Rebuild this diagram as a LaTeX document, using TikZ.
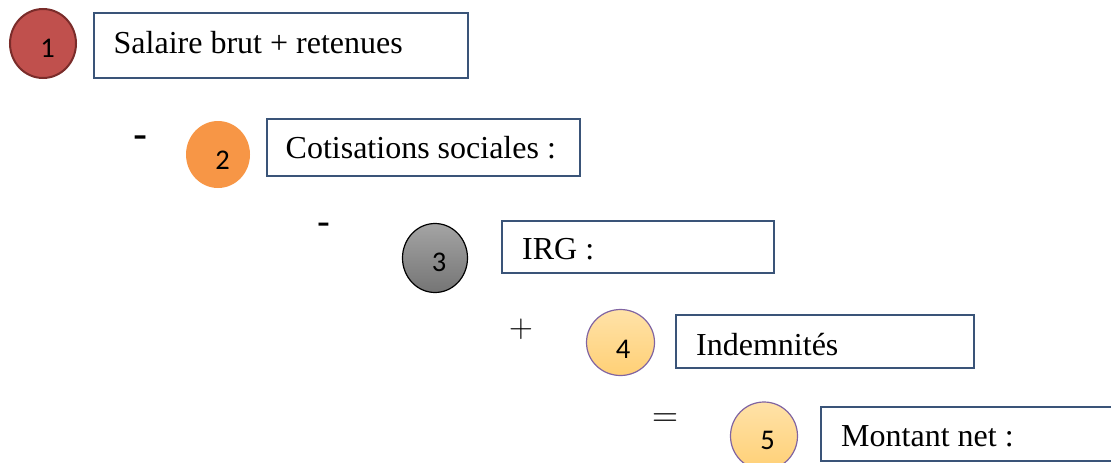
\documentclass[tikz,border=0pt]{standalone}
\usepackage{fontspec}
\setmainfont{Liberation Serif}
\newfontfamily\numfont{Carlito}
\newfontfamily\lmfont{Latin Modern Roman}
\usetikzlibrary{shapes.geometric}
\definecolor{boxline}{HTML}{3A5478}
\definecolor{redfill}{HTML}{C0504D}
\definecolor{redline}{HTML}{7A2C2A}
\definecolor{orangefill}{HTML}{F79646}
\definecolor{graytop}{HTML}{A4A4A4}
\definecolor{graybot}{HTML}{757575}
\definecolor{yeltop}{HTML}{FFE2A8}
\definecolor{yelbot}{HTML}{FFD076}
\definecolor{purpline}{HTML}{8064A2}
\tikzset{
  stepbox/.style={draw=boxline, line width=2.2pt, rectangle, inner sep=0pt, fill=white},
  lbl/.style={inner sep=0pt, anchor=base west, font=\fontsize{32}{36}\selectfont},
  num/.style={inner sep=0pt, anchor=base, font=\numfont\fontsize{28.5}{30}\selectfont},
  badge/.style={ellipse, inner sep=0pt},
  opsign/.style={inner sep=0pt, anchor=center},
}
\begin{document}
\begin{tikzpicture}[x=1pt,y=-1pt]
\path[use as bounding box] (0,0) rectangle (1111,463);
\clip (0,0) rectangle (1111,463);
% badges
\node[badge, fill=redfill, draw=redline, line width=2pt, minimum width=66pt, minimum height=69pt] (c1) at (43,43.5) {};
\node[badge, fill=orangefill, minimum width=64pt, minimum height=67pt] (c2) at (218,154.5) {};
\node[badge, top color=graytop, bottom color=graybot, draw=black, line width=1.2pt, minimum width=65pt, minimum height=69pt] (c3) at (435,258) {};
\node[badge, top color=yeltop, bottom color=yelbot, draw=purpline, line width=1.2pt, minimum width=68pt, minimum height=66pt] (c4) at (620.5,342.5) {};
\node[badge, top color=yeltop, bottom color=yelbot, draw=purpline, line width=1.2pt, minimum width=67pt, minimum height=68pt] (c5) at (764,436) {};
% digits
\node[num] (n1) at (47.5,57) {1};
\node[num] (n2) at (222.5,169) {2};
\node[num] (n3) at (439,271) {3};
\node[num] (n4) at (623,358) {4};
\node[num] (n5) at (767.5,449) {5};
% boxes
\node[stepbox, minimum width=374pt, minimum height=65pt] (b1) at (281,45.5) {};
\node[stepbox, minimum width=313pt, minimum height=57pt] (b2) at (423.5,147.5) {};
\node[stepbox, minimum width=272pt, minimum height=52pt] (b3) at (638,247) {};
\node[stepbox, minimum width=298pt, minimum height=53pt] (b4) at (825,341.5) {};
\node[stepbox, minimum width=300pt, minimum height=54pt] (b5) at (971,434) {};
% labels
\node[lbl] (t1) at (113.5,53) {Salaire brut + retenues};
\node[lbl] (t2) at (285.5,158) {Cotisations sociales :};
\node[lbl] (t3) at (522,259) {IRG :};
\node[lbl] (t4) at (696,355) {Indemnités};
\node[lbl] (t5) at (841,446) {Montant net :};
% operators
\node[inner sep=0pt, anchor=base, font=\numfont\fontsize{46}{50}\selectfont] (m1) at (140.5,150) {-};
\node[inner sep=0pt, anchor=base, font=\numfont\fontsize{42}{46}\selectfont] (m2) at (323.5,236.5) {-};
\node[opsign, font=\lmfont\fontsize{33}{40}\selectfont] (p1) at (521,329.5) {+};
\node[opsign, font=\lmfont\fontsize{36}{40}\selectfont] (e1) at (665.5,417.5) {\vphantom{+}=};
\end{tikzpicture}
\end{document}
